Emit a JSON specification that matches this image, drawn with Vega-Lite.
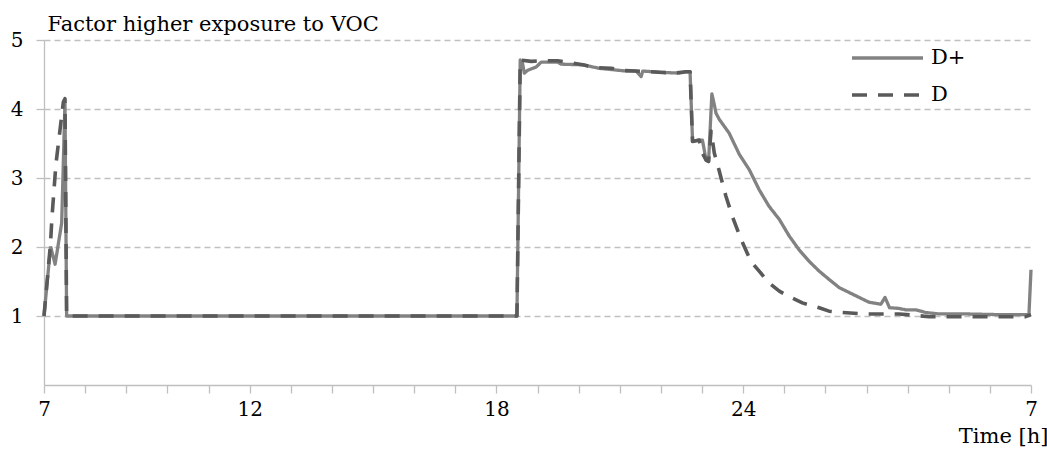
{
  "$schema": "https://vega.github.io/schema/vega-lite/v6.json",
  "width": 987,
  "height": 345,
  "autosize": {"type": "none"},
  "padding": {"left": 44, "top": 40, "right": 16, "bottom": 71},
  "background": "white",
  "config": {"view": {"stroke": null}, "font": "DejaVu Serif"},
  "data": {"values": [
    {"s":"D+","t":7.00,"v":1.00},{"s":"D+","t":7.16,"v":2.01},{"s":"D+","t":7.27,"v":1.75},{"s":"D+","t":7.43,"v":2.35},{"s":"D+","t":7.51,"v":4.10},{"s":"D+","t":7.55,"v":1.00},
    {"s":"D+","t":18.50,"v":1.00},{"s":"D+","t":18.58,"v":4.71},{"s":"D+","t":18.63,"v":4.68},{"s":"D+","t":18.68,"v":4.52},{"s":"D+","t":18.76,"v":4.56},{"s":"D+","t":18.97,"v":4.61},{"s":"D+","t":19.09,"v":4.68},{"s":"D+","t":19.49,"v":4.68},{"s":"D+","t":19.57,"v":4.65},{"s":"D+","t":20.10,"v":4.64},{"s":"D+","t":20.50,"v":4.59},{"s":"D+","t":21.15,"v":4.55},{"s":"D+","t":21.40,"v":4.55},{"s":"D+","t":21.52,"v":4.47},{"s":"D+","t":21.56,"v":4.55},{"s":"D+","t":22.04,"v":4.53},{"s":"D+","t":22.45,"v":4.52},{"s":"D+","t":22.61,"v":4.54},{"s":"D+","t":22.71,"v":4.54},{"s":"D+","t":22.77,"v":3.53},{"s":"D+","t":22.93,"v":3.55},{"s":"D+","t":23.01,"v":3.55},{"s":"D+","t":23.10,"v":3.26},{"s":"D+","t":23.16,"v":3.24},{"s":"D+","t":23.24,"v":4.22},{"s":"D+","t":23.30,"v":4.06},{"s":"D+","t":23.34,"v":3.94},{"s":"D+","t":23.42,"v":3.85},{"s":"D+","t":23.66,"v":3.65},{"s":"D+","t":23.91,"v":3.34},{"s":"D+","t":24.15,"v":3.12},{"s":"D+","t":24.39,"v":2.83},{"s":"D+","t":24.63,"v":2.59},{"s":"D+","t":24.88,"v":2.40},{"s":"D+","t":25.12,"v":2.16},{"s":"D+","t":25.36,"v":1.96},{"s":"D+","t":25.61,"v":1.79},{"s":"D+","t":25.85,"v":1.65},{"s":"D+","t":26.09,"v":1.53},{"s":"D+","t":26.34,"v":1.41},{"s":"D+","t":26.58,"v":1.34},{"s":"D+","t":26.82,"v":1.27},{"s":"D+","t":27.06,"v":1.20},{"s":"D+","t":27.35,"v":1.17},{"s":"D+","t":27.45,"v":1.27},{"s":"D+","t":27.56,"v":1.12},{"s":"D+","t":27.79,"v":1.11},{"s":"D+","t":27.95,"v":1.09},{"s":"D+","t":28.20,"v":1.09},{"s":"D+","t":28.44,"v":1.05},{"s":"D+","t":28.76,"v":1.03},{"s":"D+","t":29.41,"v":1.03},{"s":"D+","t":30.22,"v":1.02},{"s":"D+","t":30.95,"v":1.02},{"s":"D+","t":31.00,"v":1.67},
    {"s":"D","t":7.00,"v":1.00},{"s":"D","t":7.16,"v":2.06},{"s":"D","t":7.19,"v":2.40},{"s":"D","t":7.29,"v":3.20},{"s":"D","t":7.39,"v":3.70},{"s":"D","t":7.47,"v":4.10},{"s":"D","t":7.51,"v":4.15},{"s":"D","t":7.55,"v":1.00},
    {"s":"D","t":18.50,"v":1.00},{"s":"D","t":18.58,"v":4.71},{"s":"D","t":18.85,"v":4.69},{"s":"D","t":19.12,"v":4.70},{"s":"D","t":19.49,"v":4.70},{"s":"D","t":19.82,"v":4.67},{"s":"D","t":20.10,"v":4.64},{"s":"D","t":20.42,"v":4.60},{"s":"D","t":20.79,"v":4.59},{"s":"D","t":21.07,"v":4.56},{"s":"D","t":21.40,"v":4.55},{"s":"D","t":22.04,"v":4.53},{"s":"D","t":22.33,"v":4.52},{"s":"D","t":22.61,"v":4.54},{"s":"D","t":22.71,"v":4.54},{"s":"D","t":22.77,"v":3.53},{"s":"D","t":22.93,"v":3.55},{"s":"D","t":23.01,"v":3.36},{"s":"D","t":23.10,"v":3.26},{"s":"D","t":23.16,"v":3.24},{"s":"D","t":23.22,"v":3.68},{"s":"D","t":23.30,"v":3.36},{"s":"D","t":23.42,"v":3.10},{"s":"D","t":23.58,"v":2.74},{"s":"D","t":23.74,"v":2.44},{"s":"D","t":23.95,"v":2.11},{"s":"D","t":24.19,"v":1.79},{"s":"D","t":24.39,"v":1.65},{"s":"D","t":24.63,"v":1.48},{"s":"D","t":24.88,"v":1.36},{"s":"D","t":25.16,"v":1.27},{"s":"D","t":25.44,"v":1.19},{"s":"D","t":25.85,"v":1.12},{"s":"D","t":26.09,"v":1.07},{"s":"D","t":26.42,"v":1.05},{"s":"D","t":26.98,"v":1.03},{"s":"D","t":27.79,"v":1.03},{"s":"D","t":28.52,"v":0.99},{"s":"D","t":29.01,"v":0.99},{"s":"D","t":30.87,"v":0.99},{"s":"D","t":31.00,"v":1.02}
  ]},
  "encoding": {
    "x": {
      "field": "t", "type": "quantitative",
      "scale": {"domain": [7, 31], "nice": false, "zero": false},
      "axis": {
        "values": [7,8,9,10,11,12,13,14,15,16,17,18,19,20,21,22,23,24,25,26,27,28,29,30,31],
        "labelExpr": "datum.value == 7 || datum.value == 31 ? '7' : (datum.value == 12 || datum.value == 18 || datum.value == 24 ? datum.label : '')",
        "grid": false,
        "domainColor": "#bfbfbf", "domainWidth": 1.3,
        "tickColor": "#bfbfbf", "tickSize": 8, "tickWidth": 1.3,
        "labelFontSize": 20, "labelColor": "black",
        "labelPadding": 6, "labelFlush": false, "labelOverlap": false,
        "title": "Time [h]", "titleFontSize": 21,
        "titleFontWeight": "normal", "titleColor": "black",
        "titleAlign": "right", "titleAnchor": "end", "titleX": 1004, "titleY": 57,
        "titleBaseline": "alphabetic"
      }
    },
    "y": {
      "field": "v", "type": "quantitative",
      "scale": {"domain": [0, 5], "nice": false},
      "axis": {
        "values": [1,2,3,4,5],
        "grid": true, "gridDash": [6,4], "gridColor": "#c0c0c0", "gridWidth": 1.3,
        "domainColor": "#bfbfbf", "domainWidth": 1.3,
        "tickColor": "#bfbfbf", "tickSize": 8, "tickWidth": 1.3,
        "labelFontSize": 20, "labelColor": "black",
        "labelPadding": 13,
        "title": "Factor higher exposure to VOC",
        "titleFontSize": 21, "titleFontWeight": "normal", "titleColor": "black",
        "titleAngle": 0, "titleAlign": "left", "titleX": 3, "titleY": -10,
        "titleBaseline": "alphabetic"
      }
    },
    "color": {
      "field": "s", "type": "nominal",
      "scale": {"domain": ["D+", "D"], "range": ["#828282", "#5a5a5a"]},
      "legend": {
        "orient": "none", "legendX": 806, "legendY": 6, "title": null,
        "symbolType": "stroke", "symbolSize": 5041, "symbolStrokeWidth": 3.5,
        "labelFontSize": 21, "labelColor": "black",
        "labelOffset": 6, "clipHeight": 24, "rowPadding": 13
      }
    },
    "strokeDash": {
      "field": "s", "type": "nominal",
      "scale": {"domain": ["D+", "D"], "range": [[1, 0], [15, 11]]},
      "legend": {
        "orient": "none", "legendX": 806, "legendY": 6, "title": null,
        "symbolType": "stroke", "symbolSize": 5041, "symbolStrokeWidth": 3.5,
        "labelFontSize": 21, "labelColor": "black",
        "labelOffset": 6, "clipHeight": 24, "rowPadding": 13
      }
    }
  },
  "layer": [
    {"transform": [{"filter": "datum.s === 'D+'"}], "mark": {"type": "line", "strokeWidth": 3.3, "strokeJoin": "round"}},
    {"transform": [{"filter": "datum.s === 'D'"}], "mark": {"type": "line", "strokeWidth": 3.6, "strokeJoin": "round"}}
  ]
}
